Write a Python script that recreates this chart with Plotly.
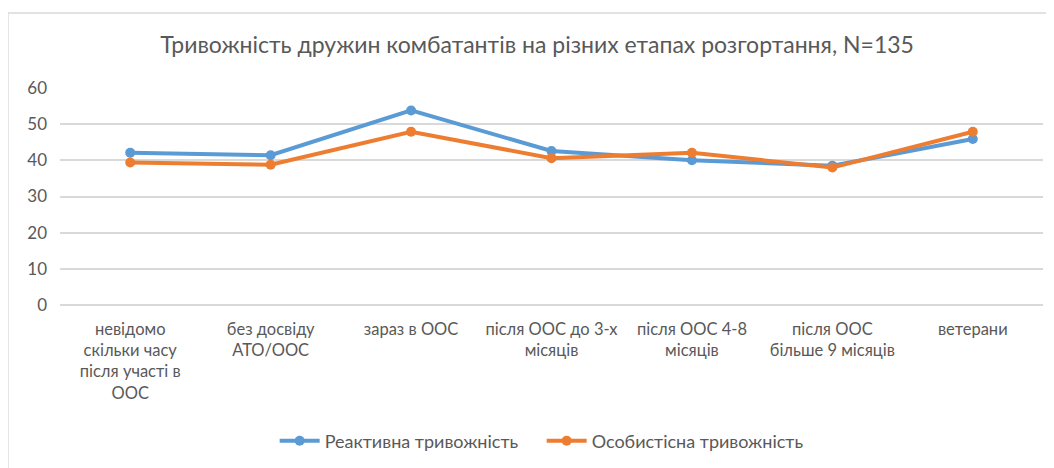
import plotly.graph_objects as go

# categories (x axis) and series values
categories = [
    "невідомо<br>скільки часу<br>після участі в<br>ООС",
    "без досвіду<br>АТО/ООС",
    "зараз в ООС",
    "після ООС до 3-х<br>місяців",
    "після ООС 4-8<br>місяців",
    "після ООС<br>більше 9 місяців",
    "ветерани",
]
reactive = [42.1, 41.4, 53.8, 42.6, 40.0, 38.5, 45.9]
personal = [39.4, 38.8, 47.9, 40.6, 42.1, 38.0, 47.9]
y_ticks = [0, 10, 20, 30, 40, 50, 60]

blue = "#5b9bd5"
orange = "#ed7d31"
grey_text = "#595959"
grid = "#d9d9d9"
font_name = "Lato, Open Sans, sans-serif"

fig = go.Figure()
fig.add_trace(go.Scatter(
    x=categories, y=reactive, mode="lines+markers",
    name="Реактивна тривожність",
    line=dict(color=blue, width=4),
    marker=dict(color=blue, size=10),
))
fig.add_trace(go.Scatter(
    x=categories, y=personal, mode="lines+markers",
    name="Особистісна тривожність",
    line=dict(color=orange, width=4),
    marker=dict(color=orange, size=10),
))

# chart frame (light grey border around the whole chart object)
fig.add_shape(type="rect", xref="paper", yref="paper",
              x0=-0.053, x1=1.05, y0=-0.8, y1=1.346,
              line=dict(color=grid, width=1.5), fillcolor="rgba(0,0,0,0)",
              layer="below")

# the page body adds 8px offset, so margins are shifted by that much
fig.update_layout(
    width=1054, height=468,
    margin=dict(l=52, r=19, t=80, b=171),
    plot_bgcolor="white", paper_bgcolor="white",
    font=dict(family=font_name, color=grey_text, size=16),
    title=dict(text="Тривожність дружин комбатантів на різних етапах розгортання, N=135",
               x=0.502, xanchor="center", y=0.921, yanchor="middle",
               font=dict(size=23, color=grey_text)),
    showlegend=True,
    legend=dict(orientation="h", x=0.49, xanchor="center", y=-0.627, yanchor="middle",
                font=dict(size=18, color=grey_text), itemwidth=40,
                entrywidth=212, entrywidthmode="pixels",
                traceorder="normal"),
    xaxis=dict(range=[-0.5, 6.5], showgrid=False, showline=False, zeroline=False,
               tickfont=dict(size=16.5, color=grey_text), ticklabelstandoff=12,
               fixedrange=True),
    yaxis=dict(range=[0, 60], tickvals=y_ticks, showgrid=True, gridcolor=grid,
               gridwidth=1.5, zeroline=True, zerolinecolor=grid, zerolinewidth=1.5,
               showline=False, tickfont=dict(size=17, color=grey_text),
               ticklabelstandoff=12, fixedrange=True),
)

fig.write_html("out.html")
